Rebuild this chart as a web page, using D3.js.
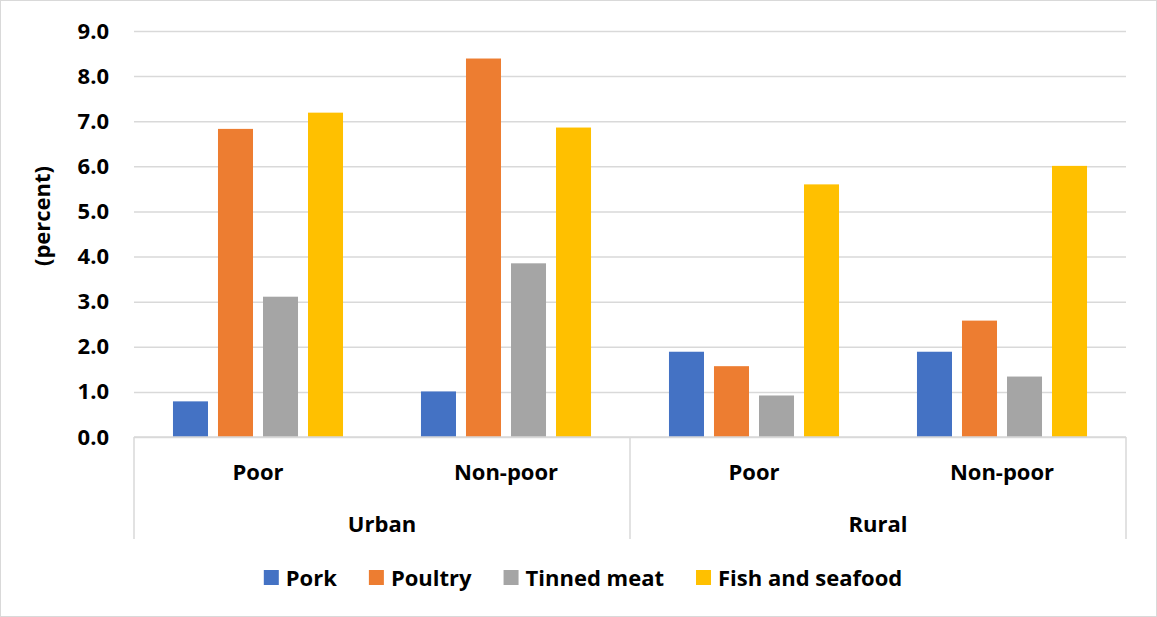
<!DOCTYPE html>
<html><head><meta charset="utf-8">
<script src="https://cdn.jsdelivr.net/npm/d3@7"></script>
<style>
html,body{margin:0;padding:0;background:#fff;}
text{font-family:"Open Sans",Lato,sans-serif;font-weight:bold;fill:#000;}
</style></head>
<body><svg id="c" width="1157" height="617"></svg>
<script>
const areas = ["Urban", "Rural"];
const groups = ["Poor", "Non-poor"];
const categories = ["Urban|Poor", "Urban|Non-poor", "Rural|Poor", "Rural|Non-poor"];
const seriesNames = ["Pork", "Poultry", "Tinned meat", "Fish and seafood"];
const seriesColors = ["#4472C4", "#ED7D31", "#A5A5A5", "#FFC000"];
const pork = [0.79, 1.01, 1.89, 1.89];
const poultry = [6.83, 8.39, 1.57, 2.58];
const tinned = [3.11, 3.85, 0.92, 1.34];
const fish = [7.19, 6.86, 5.60, 6.01];
const yTicks = [0, 1, 2, 3, 4, 5, 6, 7, 8, 9];

const seriesValues = [pork, poultry, tinned, fish];
const svg = d3.select("#c");
const W = 1157, H = 617;
const m = {left: 134, right: 1126, top: 31, bottom: 437};
const FONT = "'Open Sans', Lato, sans-serif";
const FS = 22;

svg.append("rect").attr("x",0.5).attr("y",0.5).attr("width",W-1).attr("height",H-1)
  .attr("fill","#fff").attr("stroke","#d9d9d9");

const y = d3.scaleLinear().domain([0, 9]).range([m.bottom, m.top]);
const x0 = d3.scaleBand().domain(categories).range([m.left, m.right]).padding(0);
const x1 = d3.scaleBand().domain(seriesNames).range([0, x0.bandwidth()])
  .paddingInner(0.222).paddingOuter(0.866);

// gridlines
const yAxis = d3.axisLeft(y).tickValues(yTicks).tickSize(-(m.right - m.left)).tickPadding(25)
  .tickFormat(d3.format(".1f"));
const gy = svg.append("g").attr("transform", `translate(${m.left},0)`).call(yAxis);
gy.select(".domain").remove();
gy.selectAll(".tick line").attr("stroke", "#d9d9d9").attr("stroke-width", 1.5);
gy.selectAll(".tick text").attr("font-size", FS).attr("fill","#000")
  .style("font-family", FONT).style("font-weight","bold");

// bars
categories.forEach((c, ci) => {
  seriesNames.forEach((s, si) => {
    const v = seriesValues[si][ci];
    svg.append("rect")
      .attr("x", x0(c) + x1(s))
      .attr("y", y(v))
      .attr("width", x1.bandwidth())
      .attr("height", y(0) - y(v))
      .attr("fill", seriesColors[si]);
  });
});

// category axis
svg.append("line").attr("x1", m.left).attr("x2", m.right).attr("y1", y(0)).attr("y2", y(0))
  .attr("stroke", "#d9d9d9").attr("stroke-width", 1.5);
const areaScale = d3.scaleBand().domain(areas).range([m.left, m.right]);
const seps = [m.left, areaScale("Rural"), m.right];
seps.forEach(sx => {
  svg.append("line").attr("x1", sx).attr("x2", sx).attr("y1", y(0)).attr("y2", 539)
    .attr("stroke", "#d9d9d9").attr("stroke-width", 1.5);
});
categories.forEach(c => {
  svg.append("text").attr("x", x0(c) + x0.bandwidth()/2).attr("y", 480)
    .attr("text-anchor", "middle").attr("font-size", FS).text(c.split("|")[1]);
});
areas.forEach(a => {
  svg.append("text").attr("x", areaScale(a) + areaScale.bandwidth()/2).attr("y", 532)
    .attr("text-anchor", "middle").attr("font-size", FS).text(a);
});

// y title
svg.append("text").attr("transform", `translate(50,216) rotate(-90)`)
  .attr("text-anchor", "middle").attr("font-size", FS).text("(percent)");

// legend
const lg = svg.append("g");
const items = seriesNames.map((s, i) => {
  const g = lg.append("g");
  g.append("rect").attr("x", 0).attr("y", 570).attr("width", 15).attr("height", 15)
    .attr("fill", seriesColors[i]);
  const t = g.append("text").attr("x", 22).attr("y", 586).attr("font-size", FS).text(s);
  return {g, w: 22 + t.node().getComputedTextLength()};
});
const gap = 32;
const total = d3.sum(items, d => d.w) + gap * (items.length - 1);
let lx = 583 - total / 2;
items.forEach(it => { it.g.attr("transform", `translate(${lx},0)`); lx += it.w + gap; });
</script></body></html>
